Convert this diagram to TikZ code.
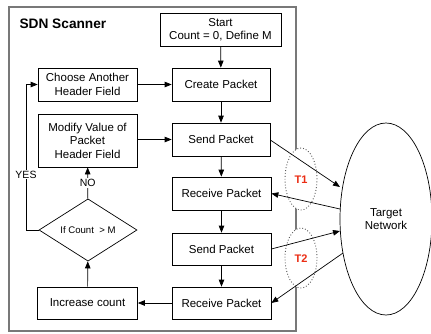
\documentclass[tikz,border=0pt]{standalone}
\usepackage{fontspec}
\setmainfont{Liberation Sans}
\usetikzlibrary{shapes.geometric,arrows.meta}
\definecolor{tred}{RGB}{235,45,20}
\definecolor{frame}{RGB}{120,120,120}
\tikzset{
  box/.style={draw=black, line width=0.7pt, fill=white, align=center,
    font=\fontsize{11.5}{13.5}\selectfont, inner sep=0pt},
  flow/.style={line width=0.7pt, -{Triangle[length=7pt,width=5.5pt]}},
  window/.style={ellipse, draw=black!65, dotted, line width=0.9pt, fill=white,
    minimum width=32pt, inner sep=0pt},
  tlabel/.style={text=tred, font=\fontsize{11}{13}\selectfont\bfseries},
  lbl/.style={font=\fontsize{10.5}{12}\selectfont, fill=white, inner sep=1pt}
}
\begin{document}
\begin{tikzpicture}[x=1pt,y=-1pt]
\useasboundingbox (0,0) rectangle (431,333);

% scanner frame
\draw[frame, line width=1.3pt] (9,7) rectangle (296,331);
\node[anchor=west, font=\fontsize{13.7}{16}\selectfont\bfseries] (title) at (16,24) {SDN Scanner};

% timing windows (white fill hides the frame)
\node[window, minimum height=62pt] (w1) at (301,179) {};
\node[window, minimum height=60pt] (w2) at (301,258) {};
\node[tlabel] (t1) at (301,180) {T1};
\node[tlabel] (t2) at (301,259) {T2};

% main column
\node[box, minimum width=121pt, minimum height=33pt] (start) at (220.5,29.5) {Start\\Count = 0, Define M};
\node[box, minimum width=98pt, minimum height=33pt] (create) at (221,84.5) {Create Packet};
\node[box, minimum width=98pt, minimum height=33pt] (send1) at (221,139.5) {Send Packet};
\node[box, minimum width=99pt, minimum height=33pt] (recv1) at (221.5,193.5) {Receive Packet};
\node[box, minimum width=99pt, minimum height=32pt] (send2) at (221.5,249) {Send Packet};
\node[box, minimum width=99pt, minimum height=32pt] (recv2) at (221.5,303) {Receive Packet};

% left column
\node[box, minimum width=99pt, minimum height=33pt] (choose) at (87.5,84.5) {Choose Another\\Header Field};
\node[box, minimum width=99pt, minimum height=53pt] (modify) at (87.5,140.5) {Modify Value of\\Packet\\Header Field};
\node[box, minimum width=100pt, minimum height=32pt] (incr) at (87.5,303) {Increase count};
\node[diamond, draw=black, line width=0.7pt, fill=white, inner sep=0pt,
  minimum width=98pt, minimum height=44pt,
  font=\fontsize{9.6}{11}\selectfont] (check) at (88,230) {If Count~~> M};

% target network
\node[ellipse, draw=black, line width=0.7pt, minimum width=92pt, minimum height=192pt,
  inner sep=0pt, align=center, font=\fontsize{11.5}{13.5}\selectfont] (net) at (386,219) {Target\\Network};

% flow
\draw[flow] (start) -- (create);
\draw[flow] (create) -- (send1);
\draw[flow] (send1) -- (recv1);
\draw[flow] (recv1) -- (send2);
\draw[flow] (send2) -- (recv2);
\draw[flow] (recv2) -- (incr);
\draw[flow] (incr) -- (check);
\draw[flow] (check) -- node[lbl, pos=0.5] (no) {NO} (modify);
\draw[flow] (modify.east |- send1) -- (send1);
\draw[flow] (choose) -- (create);
\coordinate (yl) at (26,230);
\coordinate (yt) at (26,84.5);
\draw[flow] (check.west) -- (yl) -- node[lbl, pos=0.38] (yes) {YES} (yt) -- (choose.west);

% exchanges with the network
\coordinate (n1) at (340,187);
\coordinate (n2) at (340,209);
\coordinate (n3) at (340,231);
\coordinate (n4) at (343,253);
\draw[flow] (send1.east) ++(0,0.5) coordinate (s1) (s1) -- (n1);
\draw[flow] (n2) -- (recv1.east);
\draw[flow] (send2.east) -- (n3);
\draw[flow] (n4) -- (recv2.east);
\end{tikzpicture}
\end{document}
